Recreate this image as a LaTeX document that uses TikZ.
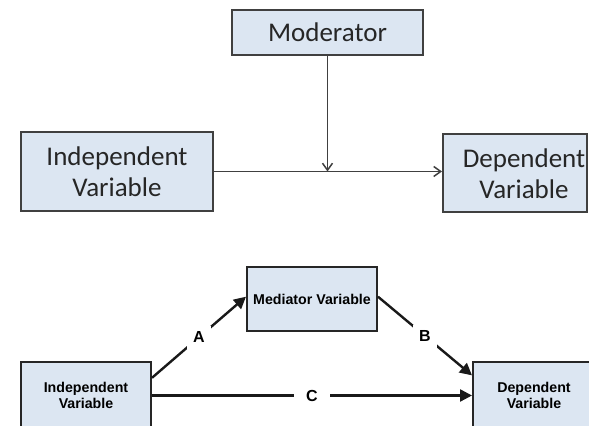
\documentclass[tikz,border=0pt]{standalone}
\usepackage{fontspec}
\setmainfont{Carlito}
\newfontfamily\arialfont{Liberation Sans}
\usetikzlibrary{arrows.meta}

\definecolor{boxfill}{HTML}{DCE6F2}
\definecolor{boxline}{HTML}{404040}
\definecolor{textgray}{HTML}{262626}

\tikzset{
  modtext/.style={text=textgray, align=center, inner sep=0pt,
    font=\fontsize{13.5}{15.5}\selectfont},
  modbox/.style={modtext, draw=boxline, line width=1pt, fill=boxfill},
  medbox/.style={draw=black!85, line width=1pt, fill=boxfill, text=black,
    align=center, inner sep=0pt, font=\arialfont\bfseries\fontsize{7.1}{8}\selectfont},
  thinarrow/.style={draw=boxline, line width=0.75pt, -{Straight Barb[length=3.5pt,width=5pt]}},
  fatarrow/.style={draw=black!90, line width=1.2pt, -{Triangle[length=6pt,width=6pt]}},
  pathlabel/.style={fill=white, inner sep=3pt, font=\arialfont\bfseries\fontsize{8}{9}\selectfont}
}

\begin{document}
\begin{tikzpicture}[x=0.5pt, y=-0.5pt]

    % Keep the page at the size of the whole figure
    \clip (0,0) rectangle (589,426);
    \fill[white] (0,0) rectangle (589,426);

    % Moderation model
    \node[modbox, minimum width=95.5pt, minimum height=22.5pt] (mod) at (327.5,32.5) {Moderator};
    \node[modbox, minimum width=96pt, minimum height=39.5pt] (iv) at (117,171.5) {Independent\\Variable};
    \node[modbox, minimum width=72pt, minimum height=39pt] (dv) at (515,173) {};
    \node[modtext] (dvtext) at (524,174) {Dependent\\Variable};

    \coordinate (cross) at (mod.south |- iv.east);

    \draw[thinarrow] (iv.east) -- (iv.east -| dv.west);
    \draw[thinarrow] (mod.south) -- (cross);

    % Mediation model
    \node[medbox, minimum width=65pt, minimum height=32pt] (med) at (312,299) {Mediator Variable};
    \node[medbox, minimum width=65pt, minimum height=33pt] (iv2) at (86,395.5) {Independent\\Variable};
    \node[medbox, minimum width=61pt, minimum height=33pt] (dv2) at (534,395.5) {Dependent\\Variable};

    \draw[fatarrow] (iv2.15) -- node[pathlabel] {A} (med.178);
    \draw[fatarrow] (med.2) -- node[pathlabel] {B} (dv2.162);
    \draw[fatarrow] (iv2.east) -- node[pathlabel, inner xsep=6pt] {C} (iv2.east -| dv2.west);

\end{tikzpicture}
\end{document}
